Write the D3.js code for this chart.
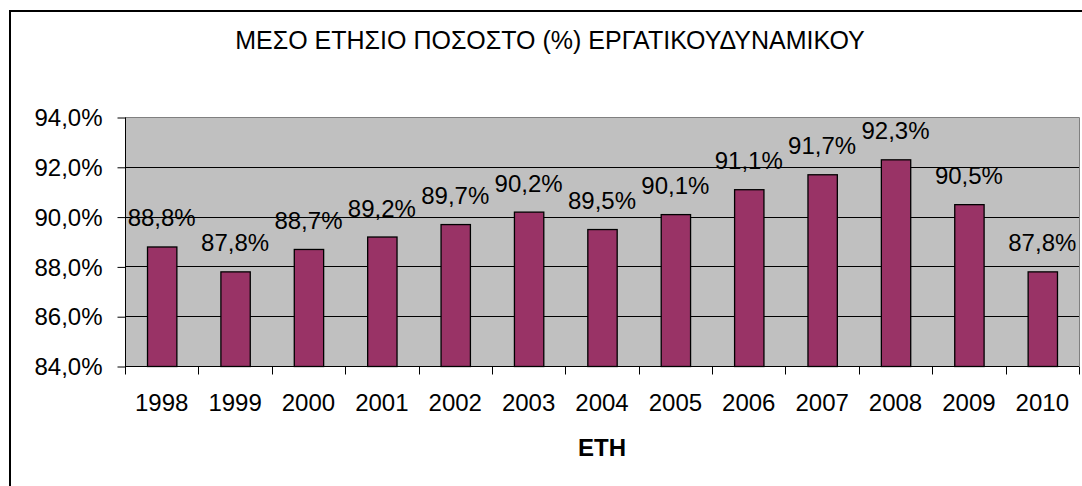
<!DOCTYPE html>
<html><head><meta charset="utf-8">
<script src="https://cdn.jsdelivr.net/npm/d3@7"></script>
<style>body{margin:0;background:#fff}svg{display:block}text{font-family:"Liberation Sans",Arial,sans-serif;fill:#000}</style>
</head><body>
<svg id="c" width="1082" height="486"></svg>
<script>
const categories = ["1998","1999","2000","2001","2002","2003","2004","2005","2006","2007","2008","2009","2010"];
const values = [88.8, 87.8, 88.7, 89.2, 89.7, 90.2, 89.5, 90.1, 91.1, 91.7, 92.3, 90.5, 87.8];
const yTicks = [84, 86, 88, 90, 92, 94];
const title = "ΜΕΣΟ ΕΤΗΣΙΟ ΠΟΣΟΣΤΟ (%) ΕΡΓΑΤΙΚΟΥΔΥΝΑΜΙΚΟΥ";
const xTitle = "ΕΤΗ";

const svg = d3.select("#c");
const L = 125, R = 1079, T = 117, B = 366;
const FS = 24;
const fmt = v => v.toFixed(1).replace(".", ",") + "%";

svg.append("rect").attr("x",10).attr("y",11).attr("width",1090).attr("height",500)
  .attr("fill","#fff").attr("stroke","#000").attr("stroke-width",2);

const x = d3.scaleBand().domain(categories).range([L, R]).paddingInner(0.6).paddingOuter(0.3);
const xb = d3.scaleBand().domain(categories).range([L, R]);
const y = d3.scaleLinear().domain([84, 94]).range([B, T]);

svg.append("rect").attr("x",L).attr("y",T).attr("width",R-L).attr("height",B-T)
  .attr("fill","#C0C0C0");
svg.append("path").attr("d",`M${L},${T+0.5}H${R+0.5}V${B}`).attr("fill","none").attr("stroke","#808080").attr("stroke-width",1);

svg.selectAll(".grid").data(yTicks.filter(t => t > 84 && t < 94)).enter().append("line")
  .attr("x1",L).attr("x2",R).attr("y1",d=>Math.round(y(d))+0.5).attr("y2",d=>Math.round(y(d))+0.5)
  .attr("stroke","#000").attr("stroke-width",1);

svg.selectAll(".bar").data(values).enter().append("rect")
  .attr("x",(d,i)=>x(categories[i])+0.5).attr("width",x.bandwidth())
  .attr("y",d=>y(d)+0.5).attr("height",d=>B-y(d))
  .attr("fill","#993366").attr("stroke","#000").attr("stroke-width",1.3);

svg.selectAll(".lbl").data(values).enter().append("text")
  .attr("x",(d,i)=>x(categories[i])+x.bandwidth()/2).attr("y",d=>y(d)-20)
  .attr("text-anchor","middle").attr("font-size",FS).text(d=>fmt(d));

const yAxis = d3.axisLeft(y).tickValues(yTicks).tickSize(8).tickPadding(15).tickFormat(fmt);
const gy = svg.append("g").attr("transform",`translate(${L+0.5},0.5)`).call(yAxis);
gy.select(".domain").attr("d",`M0,${T}V${B}`).attr("stroke","#000");
gy.selectAll("text").attr("font-size",FS).attr("font-family",'"Liberation Sans",Arial,sans-serif').attr("fill","#000").attr("dy","0.34em");
gy.selectAll("line").attr("stroke","#000");

const gx = svg.append("g").attr("transform",`translate(0,${B+0.5})`);
gx.append("line").attr("x1",L).attr("x2",R).attr("stroke","#000");
const bounds = categories.map(c=>xb(c)).concat([R]);
gx.selectAll(".tk").data(bounds).enter().append("line")
  .attr("x1",d=>Math.round(d)+0.5).attr("x2",d=>Math.round(d)+0.5).attr("y1",0).attr("y2",8).attr("stroke","#000");
gx.selectAll(".xl").data(categories).enter().append("text")
  .attr("x",d=>xb(d)+xb.bandwidth()/2).attr("y",44).attr("text-anchor","middle").attr("font-size",FS).text(d=>d);

svg.append("text").attr("x",(L+R)/2).attr("y",456).attr("text-anchor","middle")
  .attr("font-size",FS).attr("font-weight","bold").text(xTitle);
svg.append("text").attr("x",550).attr("y",49).attr("text-anchor","middle")
  .attr("font-size",25).text(title);
</script>
</body></html>
